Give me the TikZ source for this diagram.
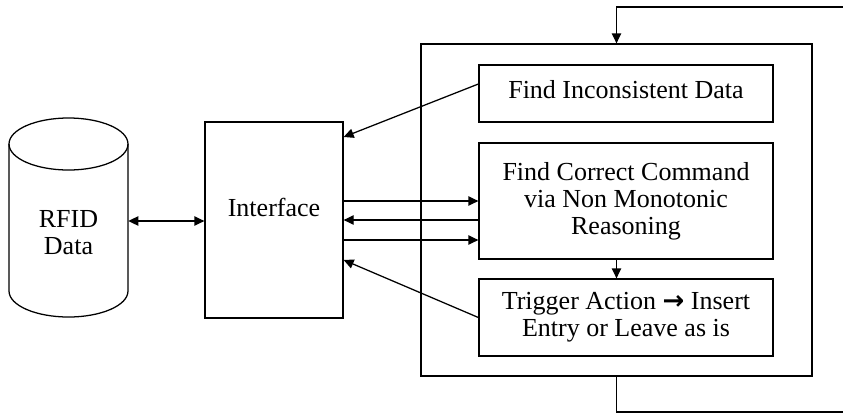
\documentclass[tikz,border=0pt]{standalone}
\usepackage{fontspec}
\setmainfont{Liberation Serif}
\newfontfamily\arrowfont{DejaVu Sans}
\usetikzlibrary{arrows.meta,calc}

\begin{document}
\begin{tikzpicture}[x=0.75pt,y=-0.75pt,
  every node/.style={font=\fontsize{19.5}{20.25}\selectfont, align=center},
  blk/.style={draw, line width=0.95pt, inner sep=0pt},
  stepbox/.style={blk, minimum width=220.5pt},
  conn/.style={-{Triangle[length=7.5pt,width=7pt]}, line width=0.95pt}]
  \useasboundingbox (0,0) rectangle (843,415);

  % RFID store
  \node[inner sep=0pt, minimum width=89.25pt, minimum height=149.25pt] (rfid) at (68.5,217.5) {};
  \draw[line width=0.95pt] (9,144) -- (9,291) arc[start angle=180, end angle=0, x radius=59.5, y radius=26] -- (128,144);
  \draw[line width=0.95pt] (68.5,144) ellipse [x radius=59.5, y radius=26];
  \node (rfidtxt) at (68.5,233) {RFID\\Data};

  % Interface
  \node[blk, minimum width=103.5pt, minimum height=147pt] (iface) at (274,220) {};
  \node (ifacetxt) at (274,207) {Interface};

  % Reasoning module
  \node[blk, minimum width=293.25pt, minimum height=249pt] (mgr) at (616.5,210) {};
  \node[stepbox, minimum height=42.75pt, text depth=6.75pt] (findinc) at (626,93.5) {Find Inconsistent Data};
  \node[stepbox, minimum height=87pt] (findcmd) at (626,201) {Find Correct Command\\via Non Monotonic\\Reasoning};
  \node[stepbox, minimum height=57.75pt] (trigger) at (626,317.5) {Trigger Action {\arrowfont\bfseries →} Insert\\Entry or Leave as is};

  % Loop back
  \coordinate (loopin) at (843,7);
  \coordinate (loopout) at (843,412);
  \draw[conn] (loopin) -| (mgr.north);
  \draw[line width=0.95pt] (mgr.south) |- (loopout);

  % Connections
  \draw[{Triangle[length=7.5pt,width=7pt]}-{Triangle[length=7.5pt,width=7pt]}, line width=0.95pt]
    (rfid.east |- 0,221) -- (iface.west |- 0,221);
  \draw[conn] ($(findinc.west)+(0,-9.5)$) -- ($(iface.east)+(0,-83)$);
  \draw[conn] (iface.east |- findcmd.west) -- (findcmd.west);
  \draw[conn] (findcmd.west |- iface.east) -- (iface.east);
  \draw[conn] ($(iface.east)+(0,20)$) -- ($(findcmd.west)+(0,39)$);
  \draw[conn] (trigger.west) -- ($(iface.east)+(0,40)$);
  \draw[conn] (mgr.center |- findcmd.south) -- (mgr.center |- trigger.north);
\end{tikzpicture}
\end{document}
